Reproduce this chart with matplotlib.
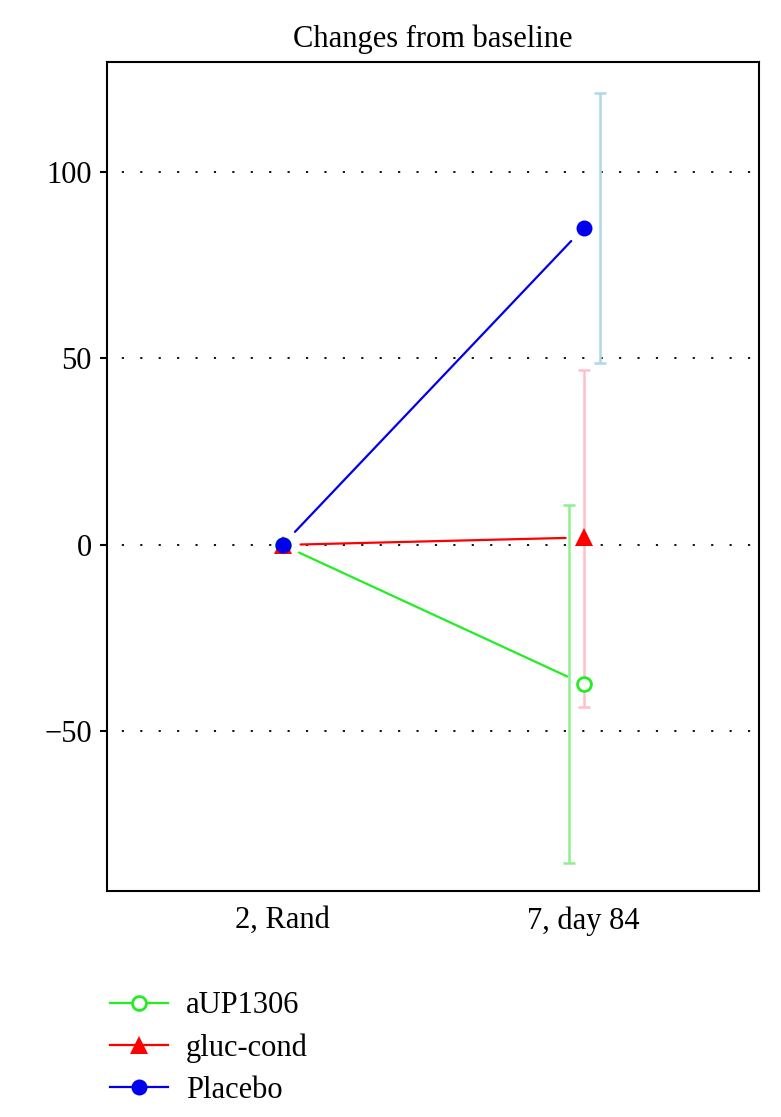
#!/usr/bin/env python3
"""Changes from baseline: three arms, two visits, mean with error bars."""
import matplotlib
matplotlib.use("Agg")
import matplotlib.pyplot as plt

plt.rcParams["font.family"] = ["Liberation Serif", "DejaVu Serif"]

visits = ["2, Rand", "7, day 84"]
visit_x = [1, 2]

groups = ["aUP1306", "gluc-cond", "Placebo"]
means = {
    "aUP1306": [0, -37.3],
    "gluc-cond": [0, 2.0],
    "Placebo": [0, 85.0],
}
# error bars only at the last visit
err_low = {"aUP1306": -85.3, "gluc-cond": -43.4, "Placebo": 48.8}
err_high = {"aUP1306": 10.7, "gluc-cond": 47.0, "Placebo": 121.2}
err_offset = {"aUP1306": -0.05, "gluc-cond": 0.0, "Placebo": 0.053}

yticks = [-50, 0, 50, 100]

line_col = {"aUP1306": "#22ee22", "gluc-cond": "#ff0000", "Placebo": "#0000ee"}
bar_col = {"aUP1306": "#90ee90", "gluc-cond": "#ffc0cb", "Placebo": "#add8e6"}
style = {
    "aUP1306": dict(marker="o", ms=10, mfc="white", mew=2),
    "gluc-cond": dict(marker="^", ms=13, mew=0),
    "Placebo": dict(marker="o", ms=11.5, mew=0),
}

FS = 22

fig = plt.figure(figsize=(7.81, 11.17), dpi=100)
ax = fig.add_axes([0.137, 0.2023, 0.835, 0.7422])

for y in yticks:
    ax.axhline(y, color="black", lw=1.3, ls=(2, (1.2, 9)), zorder=0)

# error bars
for g in groups:
    xe = visit_x[-1] + err_offset[g]
    m = means[g][-1]
    ax.errorbar([xe], [m], yerr=[[m - err_low[g]], [err_high[g] - m]],
                fmt="none", ecolor=bar_col[g], elinewidth=1.8, capsize=4,
                capthick=1.8, zorder=1)

# lines with gaps near the points (R type="b")
for g in groups:
    y0, y1 = means[g]
    ax.annotate("", xy=(visit_x[1], y1), xytext=(visit_x[0], y0),
                arrowprops=dict(arrowstyle="-", color=line_col[g], lw=1.6,
                                shrinkA=13, shrinkB=13), zorder=2)

for g in groups:
    ax.plot(visit_x, means[g], ls="none", color=line_col[g],
            mec=line_col[g], zorder=3, **style[g])

ax.set_xlim(0.417, 2.583)
ax.set_ylim(-92.8, 129.5)
ax.set_xticks(visit_x)
ax.set_xticklabels(visits)
ax.set_yticks(yticks)
ax.set_yticklabels([f"{v}".replace("-", "\u2212") for v in yticks])
ax.tick_params(axis="x", length=0, labelsize=FS, pad=11)
ax.tick_params(axis="y", length=5, width=1.5, labelsize=FS, pad=6)
for s in ax.spines.values():
    s.set_linewidth(1.5)
ax.set_title("Changes from baseline", fontsize=FS, pad=11)

handles = []
for g in groups:
    (h,) = ax.plot([], [], color=line_col[g], lw=1.6, mec=line_col[g],
                   **style[g])
    handles.append(h)
fig.legend(handles, groups, loc="upper left", bbox_to_anchor=(0.125, 0.1235),
           frameon=False, fontsize=FS, handlelength=1.9, handletextpad=0.6,
           labelspacing=0.43, borderaxespad=0)

fig.savefig("out.png", dpi=100)
